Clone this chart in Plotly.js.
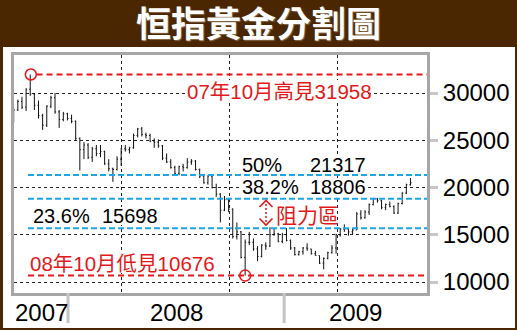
<!DOCTYPE html>
<html>
<head>
<meta charset="utf-8">
<script src="https://cdn.plot.ly/plotly-3.0.1.min.js"></script>
<style>html,body{margin:0;padding:0;background:#4a2700;}#chart{width:517px;height:330px;}</style>
</head>
<body>
<div id="chart"></div>
<script>
// ---- data (weekly OHLC of the Hang Seng Index) ----
const weekStart = [
 '2007-10-01','2007-10-08','2007-10-15','2007-10-22','2007-10-29','2007-11-05','2007-11-12','2007-11-19','2007-11-26',
 '2007-12-03','2007-12-10','2007-12-17','2007-12-24','2007-12-31',
 '2008-01-07','2008-01-14','2008-01-21','2008-01-28','2008-02-04','2008-02-11','2008-02-18','2008-02-25',
 '2008-03-03','2008-03-10','2008-03-17','2008-03-24','2008-03-31','2008-04-07','2008-04-14','2008-04-21','2008-04-28',
 '2008-05-05','2008-05-12','2008-05-19','2008-05-26','2008-06-02','2008-06-09','2008-06-16','2008-06-23','2008-06-30',
 '2008-07-07','2008-07-14','2008-07-21','2008-07-28','2008-08-04','2008-08-11','2008-08-18','2008-08-25',
 '2008-09-01','2008-09-08','2008-09-15','2008-09-22','2008-09-29','2008-10-06','2008-10-13','2008-10-20','2008-10-27',
 '2008-11-03','2008-11-10','2008-11-17','2008-11-24','2008-12-01','2008-12-08','2008-12-15','2008-12-22','2008-12-29',
 '2009-01-05','2009-01-12','2009-01-19','2009-01-26','2009-02-02','2009-02-09','2009-02-16','2009-02-23',
 '2009-03-02','2009-03-09','2009-03-16','2009-03-23','2009-03-30','2009-04-06','2009-04-13','2009-04-20','2009-04-27',
 '2009-05-04','2009-05-11','2009-05-18','2009-05-25','2009-06-01','2009-06-08','2009-06-15','2009-06-22','2009-06-29',
 '2009-07-06','2009-07-13','2009-07-20','2009-07-27','2009-08-03'
];
const openV = [
 27100,28200,29100,28500,30400,29900,28700,27600,26600,
 28600,29500,28000,27200,27800,
 27300,27000,25200,24000,24500,23200,24100,23600,
 23800,22500,22000,21900,23000,24100,24000,24200,25500,
 26200,25600,25500,24900,24800,24400,23100,22700,22100,
 21500,22200,22100,22700,22800,21900,21200,20500,
 21200,20000,19300,17600,18700,17700,14800,15300,12600,
 14200,14200,13500,12700,13900,13800,15000,15100,14300,
 15000,14400,13600,12900,13200,13600,13500,13000,
 12800,12000,12500,13100,13600,15000,15600,15600,15300,
 15500,17200,16800,17400,18200,18800,18600,17900,18200,
 18000,17300,18300,19400,20300
];
const highV = [
 28300,29300,29600,30500,31958,30000,29200,27800,28700,
 29700,30000,28200,28000,27900,
 27700,27100,25300,24800,24700,24300,24500,24500,
 23900,23000,22100,23300,24200,24500,24300,25700,26300,
 26400,25800,25700,25200,25100,24500,23600,23000,22300,
 22300,22500,23100,23000,22900,22000,21300,21300,
 21300,20400,19400,19100,18900,17800,16300,15400,14500,
 15300,14600,13800,14000,14200,15800,15600,15200,15200,
 15700,14500,13700,13300,13700,14100,13500,13300,
 12800,12600,13200,13900,15100,15700,16100,15700,15700,
 17400,17600,17600,18300,18900,18900,18700,18300,18500,
 18100,18400,19500,20400,21000
];
const lowV = [
 26900,28100,28300,28100,29700,28200,27300,26100,26400,
 28400,27800,26300,27000,27100,
 26800,25000,21800,23000,23000,22700,23300,23200,
 22400,21700,20600,21800,22300,23800,23600,24100,25300,
 25400,25200,24800,24200,24200,22900,22600,22000,21400,
 21300,21700,22000,22400,21800,21000,20400,20300,
 19900,19000,16300,17500,17400,14600,14500,12500,10676,
 13900,13300,12200,12600,13400,13700,14900,14200,14100,
 14300,13400,12800,12800,12900,13300,12900,12800,
 11900,11345,12400,13000,13000,14800,15300,14900,15000,
 15500,16600,16700,17100,18100,18400,17700,17600,17900,
 17200,17200,18200,19300,20200
];
const closeV = [
 28200,29100,28500,30400,29900,28700,27600,26600,28600,
 29500,28000,27200,27800,27300,
 27000,25200,24000,24500,23200,24100,23600,23800,
 22500,22000,21900,23000,24100,24000,24200,25500,26200,
 25600,25500,24900,24800,24400,23100,22700,22100,21500,
 22200,22100,22700,22800,21900,21200,20500,21200,
 20000,19300,17600,18700,17700,14800,15300,12600,14200,
 14200,13500,12700,13900,13800,15000,15100,14300,15000,
 14400,13600,12900,13200,13600,13500,13000,12800,
 12000,12500,13100,13600,15000,15600,15600,15300,15500,
 17200,16800,17400,18200,18800,18600,17900,18200,18000,
 17300,18300,19400,20300,20500
];
// Golden-section levels
const peakValue = 31958;
const troughValue = 10676;
const peakDate = '2007-10-30';
const troughDate = '2008-10-27';
const fibPct = ['50%', '38.2%', '23.6%'];
const fibValues = [21317, 18806, 15698];
const peakLabel = '07年10月高見31958';
const troughLabel = '08年10月低見10676';
const zoneLabel = '阻力區';
const titleText = '恒指黃金分割圖';
// axes
const yTicks = [10000, 15000, 20000, 25000, 30000];
const yTickText = ['10000', '15000', '20000', '25000', '30000'];
const yearLabels = ['2007', '2008', '2009'];
const xRange = ['2007-10-01 12:00', '2009-08-31'];
const yRange = [8836, 34021];

// ---- layout helpers (pixel -> paper) ----
const W = 517, H = 330;
const PL = 14, PR = 427, PT = 55, PB = 293;
const px = x => (x - PL) / (PR - PL);
const py = y => (PB - y) / (PB - PT);

const RED = '#e3191c', BLUE = '#1ea5e3', NUMFONT = 'Liberation Sans, Arial, sans-serif';
const CJKFONT = 'Liberation Sans, Noto Sans CJK TC, sans-serif';

// year label centres: middle of the visible part of each year
const t0 = new Date(xRange[0].replace(' ', 'T') + 'Z').getTime();
const t1 = new Date(xRange[1] + 'T00:00:00Z').getTime();
const yearCenters = yearLabels.map(y => {
  const a = Math.max(t0, new Date(y + '-01-01T00:00:00Z').getTime());
  const b = Math.min(t1, new Date((+y + 1) + '-01-01T00:00:00Z').getTime());
  return new Date((a + b) / 2).toISOString().slice(0, 19).replace('T', ' ');
});
const yearBounds = yearLabels.slice(1).map(y => y + '-01-01');

const shapes = [];
// white panel
shapes.push({type:'rect', xref:'paper', yref:'paper', x0:px(3), x1:px(515), y0:py(328), y1:py(47),
  fillcolor:'#ffffff', line:{width:0}, layer:'below'});
// white boxes behind texts
[[185,367,80,102],[239,366,155,174],[239,366,178,196],[30,159,207,225],[27,217,252,273],[274,334,201,226]].forEach(r=>{
  shapes.push({type:'rect', xref:'paper', yref:'paper', x0:px(r[0]), x1:px(r[1]), y0:py(r[3]), y1:py(r[2]),
    fillcolor:'#ffffff', line:{width:0}, layer:'above'});
});
// year separators
yearBounds.forEach(d => shapes.push({type:'line', xref:'x', yref:'paper', x0:d, x1:d, y0:py(323), y1:py(293),
  line:{color:'#c4c4c4', width:3}, layer:'above'}));
// level lines
shapes.push({type:'line', xref:'paper', yref:'y', x0:px(36.5), x1:1, y0:peakValue, y1:peakValue,
  line:{color:RED, width:2, dash:'6px,4px'}, layer:'above'});
shapes.push({type:'line', xref:'paper', yref:'y', x0:px(28), x1:1, y0:troughValue, y1:troughValue,
  line:{color:RED, width:2, dash:'6px,4px'}, layer:'above'});
fibValues.forEach(v => shapes.push({type:'line', xref:'paper', yref:'y', x0:px(28), x1:1, y0:v, y1:v,
  line:{color:BLUE, width:2, dash:'6px,3px'}, layer:'above'}));
// circles at the high and the low
[[peakDate, peakValue], [troughDate, troughValue]].forEach(p => shapes.push({type:'circle', xref:'x', yref:'y',
  xsizemode:'pixel', ysizemode:'pixel', xanchor:p[0], yanchor:p[1], x0:-5.5, x1:5.5, y0:-5.5, y1:5.5,
  line:{color:RED, width:1.5}, fillcolor:'rgba(0,0,0,0)', layer:'above'}));
// resistance-zone arrow
const ax = 266;
shapes.push({type:'path', xref:'paper', yref:'paper', layer:'above', line:{color:RED, width:1.6},
  path:`M ${px(ax-6.5)} ${py(207)} L ${px(ax)} ${py(200.5)} L ${px(ax+6.5)} ${py(207)}`});
shapes.push({type:'path', xref:'paper', yref:'paper', layer:'above', line:{color:RED, width:1.6},
  path:`M ${px(ax-6.5)} ${py(218.5)} L ${px(ax)} ${py(225)} L ${px(ax+6.5)} ${py(218.5)}`});
shapes.push({type:'line', xref:'paper', yref:'paper', x0:px(ax), x1:px(ax), y0:py(222), y1:py(204),
  line:{color:RED, width:1.5, dash:'2px,2px'}, layer:'above'});

const ann = (text, x, y, color, size, family) => ({text, xref:'paper', yref:'paper', x:px(x), y:py(y),
  xanchor:'left', yanchor:'middle', showarrow:false, font:{family, size, color}, borderpad:0});
const annotations = [
  ann(peakLabel, 186, 91, RED, 20.5, CJKFONT),
  ann(troughLabel, 28.5, 263, RED, 20.5, CJKFONT),
  ann(fibPct[0], 240.5, 164.5, '#000', 20, NUMFONT),
  ann(String(fibValues[0]), 308.5, 164.5, '#000', 20, NUMFONT),
  ann(fibPct[1], 240.5, 187, '#000', 20, NUMFONT),
  ann(String(fibValues[1]), 308.5, 187, '#000', 20, NUMFONT),
  ann(fibPct[2], 32, 216, '#000', 20, NUMFONT),
  ann(String(fibValues[2]), 100.5, 216, '#000', 20, NUMFONT),
  ann(zoneLabel, 275, 213.5, RED, 21, 'Noto Sans CJK TC, sans-serif')
];
// year labels under the axis
yearLabels.forEach((y, i) => annotations.push({text:y, xref:'x', yref:'paper', x:yearCenters[i], y:py(312),
  xanchor:'center', yanchor:'middle', showarrow:false, borderpad:0,
  font:{family:NUMFONT, size:24, color:'#000'}}));

const trace = {
  type:'ohlc', x:weekStart, open:openV, high:highV, low:lowV, close:closeV,
  increasing:{line:{color:'#111', width:1}}, decreasing:{line:{color:'#111', width:1}},
  tickwidth:0.25, hoverinfo:'skip', showlegend:false
};

const layout = {
  width:W, height:H,
  margin:{l:PL, r:W-PR, t:PT, b:H-PB, pad:0},
  paper_bgcolor:'#4a2700', plot_bgcolor:'#ffffff',
  showlegend:false,
  title:{text:titleText, xref:'container', yref:'container', x:0.5, xanchor:'center', y:1-25/H, yanchor:'middle',
    font:{family:'Noto Sans CJK TC, sans-serif', size:35, color:'#ffffff', weight:'bold', shadow:'1px 1px 1px #8a6a4a'}},
  xaxis:{type:'date', range:xRange, showgrid:false, showticklabels:false,
    ticks:'', showline:true, linecolor:'#a6a6a6', linewidth:3, mirror:true,
    zeroline:false, rangeslider:{visible:false}, fixedrange:true,
    minor:{dtick:'M3', tick0:'2007-10-01', showgrid:true, gridcolor:'#222', griddash:'dot', gridwidth:1, ticks:''}},
  yaxis:{side:'right', range:yRange, tickmode:'array', tickvals:yTicks, ticktext:yTickText,
    tickfont:{family:NUMFONT, size:24, color:'#000'}, ticks:'outside', ticklen:8, tickwidth:3, tickcolor:'#c8c8c8',
    showgrid:true, gridcolor:'#222', griddash:'dot', gridwidth:1, showline:true, linecolor:'#a6a6a6', linewidth:3,
    mirror:true, zeroline:false, fixedrange:true},
  shapes, annotations
};

Plotly.newPlot('chart', [trace], layout, {displayModeBar:false, staticPlot:true});
</script>
</body>
</html>
